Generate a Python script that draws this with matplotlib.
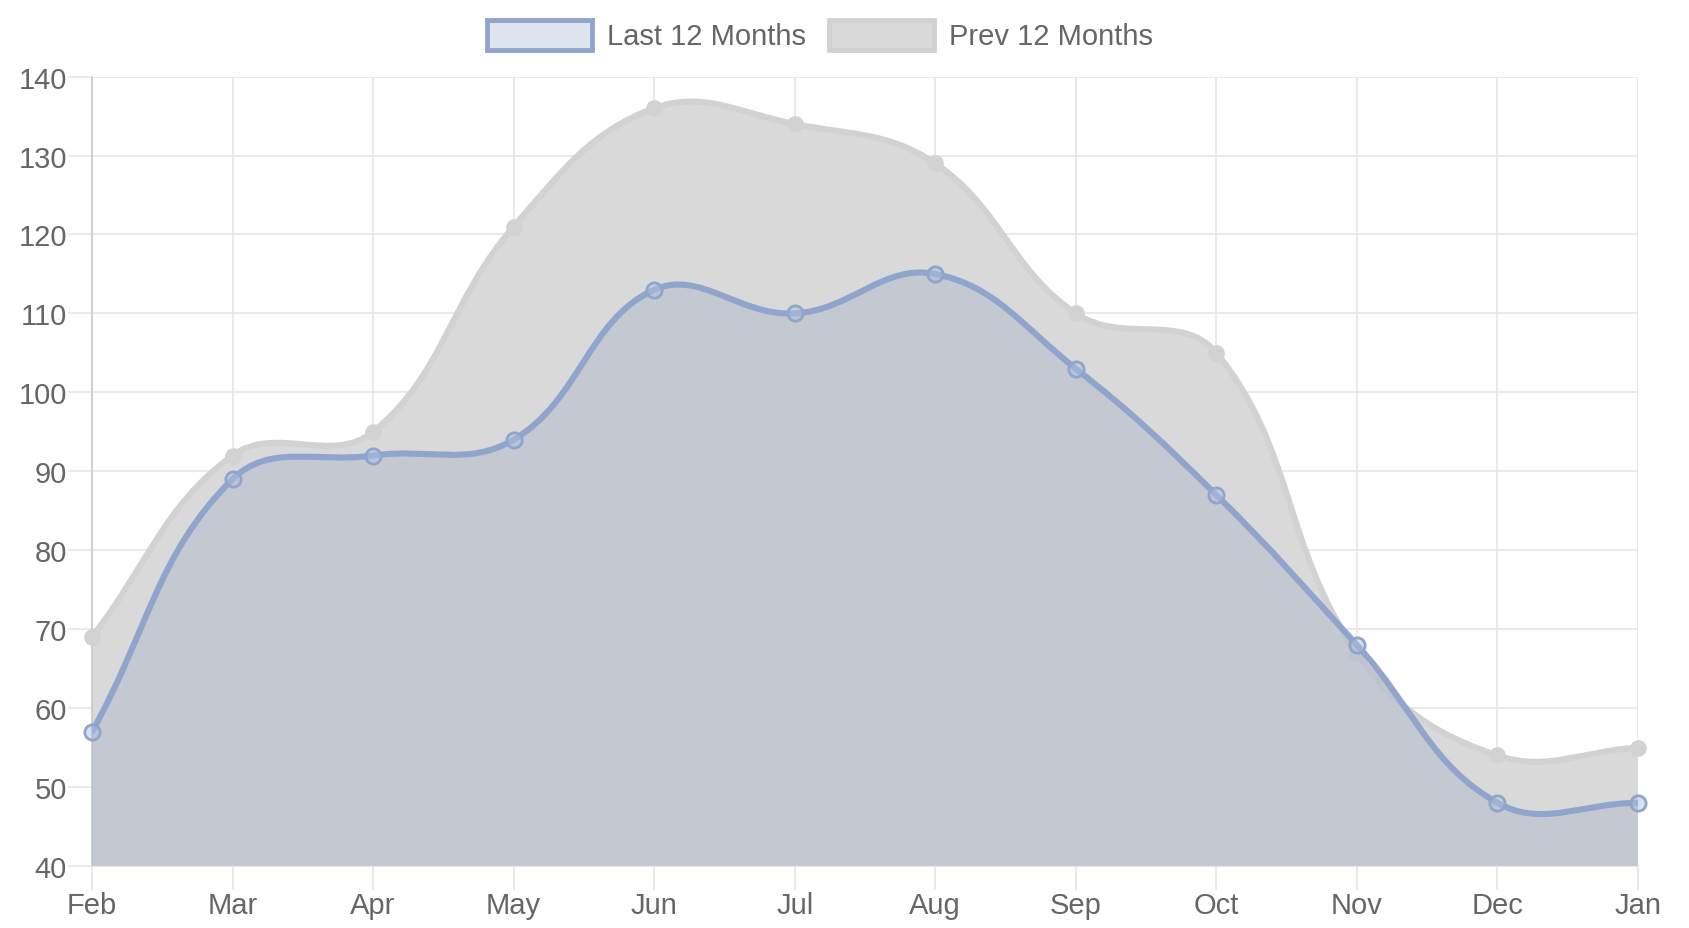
import matplotlib
matplotlib.use("Agg")
import matplotlib.pyplot as plt
from matplotlib.path import Path
from matplotlib.patches import PathPatch, Patch
import numpy as np

months = ["Feb", "Mar", "Apr", "May", "Jun", "Jul", "Aug", "Sep", "Oct", "Nov", "Dec", "Jan"]
last_12 = [57, 89, 92, 94, 113, 110, 115, 103, 87, 68, 48, 48]
prev_12 = [69, 92, 95, 121, 136, 134, 129, 110, 105, 67, 54, 55]
y_ticks = [40, 50, 60, 70, 80, 90, 100, 110, 120, 130, 140]

TEXT = "#666666"
GRID = "#e6e6e6"
BLUE_LINE = (143/255, 165/255, 204/255)
BLUE_FILL = (150/255, 165/255, 195/255, 0.32)
GRAY_LINE = (210/255, 210/255, 210/255)
GRAY_FILL = (217/255, 217/255, 217/255)

plt.rcParams['font.family'] = ['Liberation Sans', 'DejaVu Sans']

fig = plt.figure(figsize=(16.9, 9.29), dpi=100)
ax = fig.add_axes([92/1690, 1 - 867/929, (1638 - 92)/1690, (867 - 77.6)/929])
x = np.arange(len(months))
ax.set_xlim(0, len(months) - 1)
ax.set_ylim(40, 140)


def spline_path(xs, ys, tension=0.4):
    # Chart.js style bezier, control points computed in pixel space
    pts = ax.transData.transform(np.column_stack([xs, ys]))
    n = len(pts)
    verts = [pts[0]]
    codes = [Path.MOVETO]
    ctrl = []
    for i in range(n):
        p = pts[max(i - 1, 0)]
        c = pts[i]
        nx = pts[min(i + 1, n - 1)]
        d01 = np.hypot(*(c - p))
        d12 = np.hypot(*(nx - c))
        tot = d01 + d12
        s01 = d01 / tot if tot else 0
        s12 = d12 / tot if tot else 0
        fa = tension * s01
        fb = tension * s12
        ctrl.append((c - fa * (nx - p), c + fb * (nx - p)))
    for i in range(1, n):
        verts += [ctrl[i - 1][1], ctrl[i][0], pts[i]]
        codes += [Path.CURVE4] * 3
    inv = ax.transData.inverted()
    return inv.transform(np.array(verts)), codes


def area(xs, ys, fill, line, lw, zorder):
    v, c = spline_path(xs, ys)
    fv = np.vstack([v, [[xs[-1], 40], [xs[0], 40], v[0]]])
    fc = c + [Path.LINETO, Path.LINETO, Path.CLOSEPOLY]
    ax.add_patch(PathPatch(Path(fv, fc), facecolor=fill, edgecolor="none", zorder=zorder))
    ax.add_patch(PathPatch(Path(v, c), facecolor="none", edgecolor=line, lw=lw,
                           capstyle="round", joinstyle="round", zorder=zorder + 0.5))


area(x, prev_12, GRAY_FILL, GRAY_LINE, 4.4, 2)
ax.plot(x, prev_12, "o", ms=11, color=GRAY_LINE, mec=GRAY_LINE, zorder=3, clip_on=False)
area(x, last_12, BLUE_FILL, BLUE_LINE, 4.4, 4)
ax.plot(x, last_12, "o", ms=11, mfc=(175/255, 192/255, 222/255, 0.5), mec=BLUE_LINE,
        mew=2.0, zorder=5, clip_on=False)

ax.set_xticks(x)
ax.set_xticklabels(months)
ax.set_yticks(y_ticks)
ax.tick_params(axis="both", colors=GRID, labelcolor=TEXT, labelsize=21, length=17, width=1.2)
ax.tick_params(axis="x", pad=1)
ax.tick_params(axis="y", pad=1)
ax.grid(True, color=GRID, lw=1.2, zorder=0)
ax.set_axisbelow(True)
for side in ["top", "right"]:
    ax.spines[side].set_visible(False)
ax.spines["left"].set_color("#c8c8c8")
ax.spines["bottom"].set_color("#e0e0e0")
ax.spines["left"].set_linewidth(1.2)
ax.spines["bottom"].set_linewidth(1.2)

handles = [
    Patch(facecolor=(222/255, 228/255, 238/255), edgecolor=BLUE_LINE, lw=3.5, label="Last 12 Months"),
    Patch(facecolor=GRAY_FILL, edgecolor=GRAY_LINE, lw=3.5, label="Prev 12 Months"),
]
fig.legend(handles=handles, loc="center", bbox_to_anchor=(820/1690, 1 - 36/929), ncol=2,
           frameon=False, fontsize=21, labelcolor=TEXT, handlelength=3.6, handleheight=1.2,
           handletextpad=0.5, columnspacing=0.8)

fig.savefig("out.png", dpi=100)
